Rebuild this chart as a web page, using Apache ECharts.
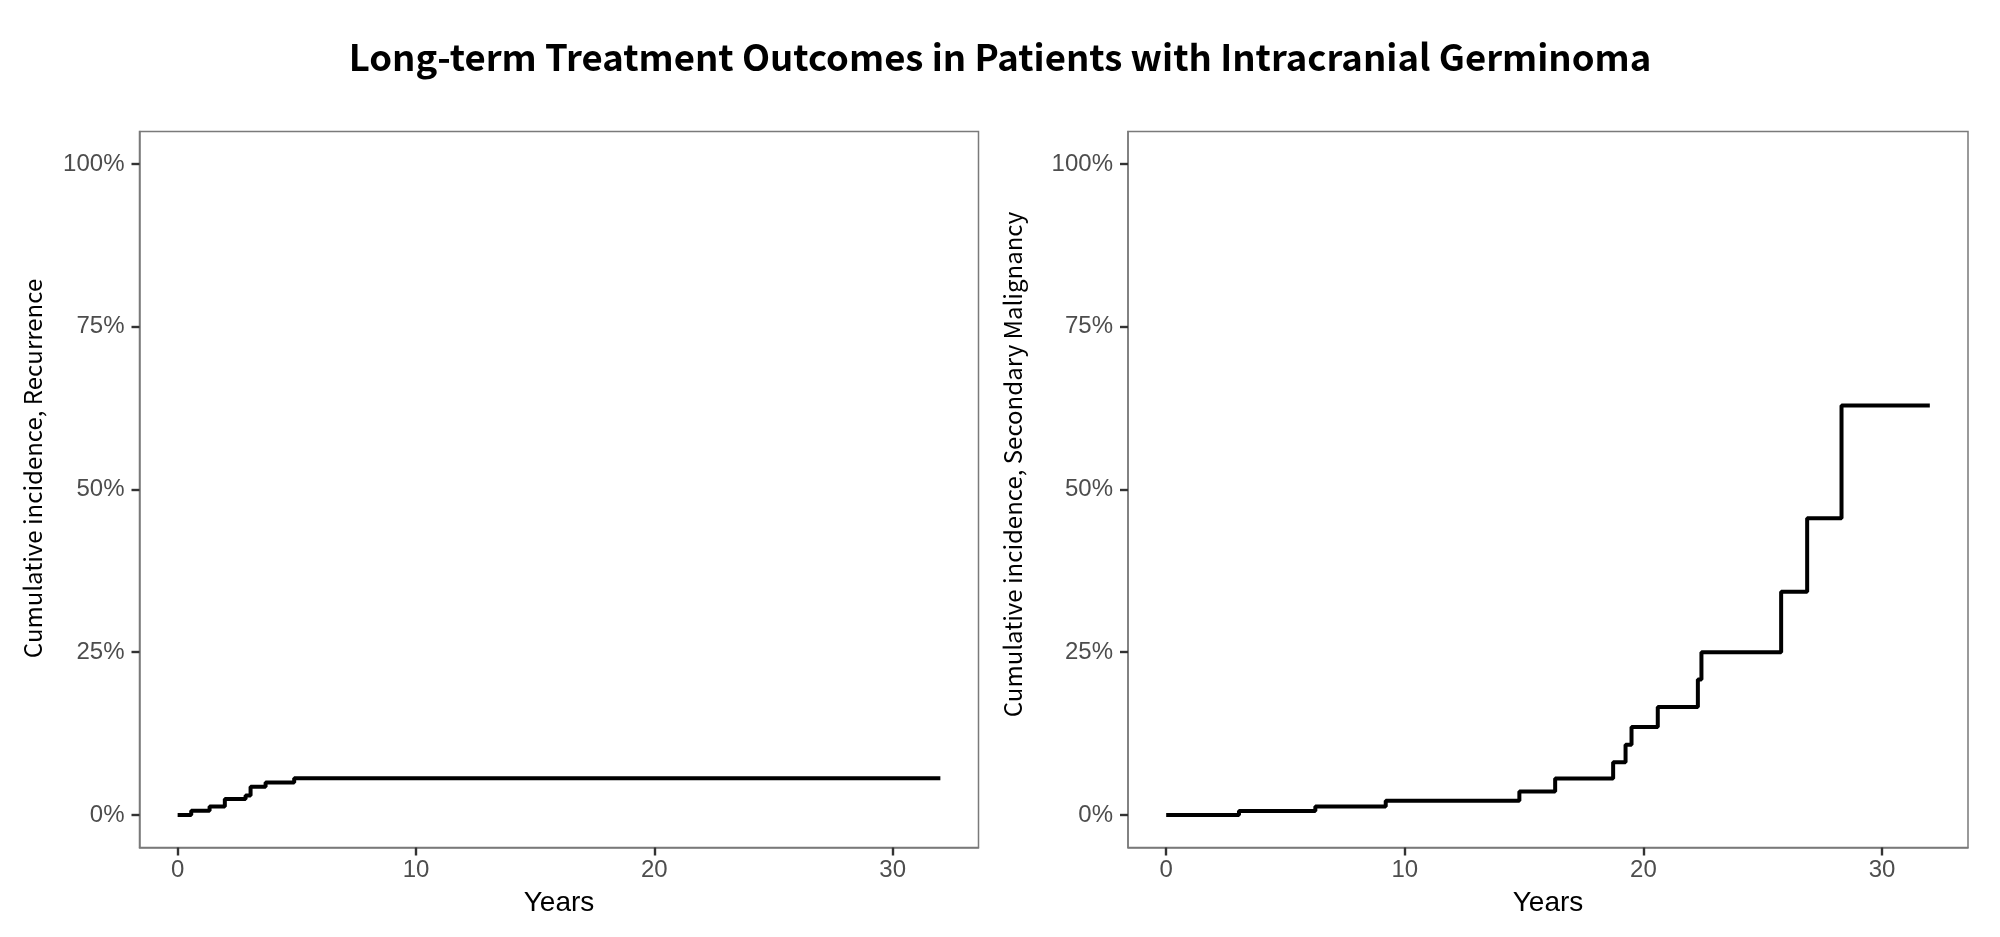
<!DOCTYPE html>
<html>
<head>
<meta charset="utf-8">
<script src="https://cdn.jsdelivr.net/npm/echarts@6/dist/echarts.min.js"></script>
<style>
  html, body { margin: 0; padding: 0; background: #fff; }
  #main { width: 2000px; height: 937px; }
</style>
</head>
<body>
<div id="main"></div>
<script>
// data (years, cumulative incidence %)
var recurYears = [0, 0.57, 1.34, 1.98, 2.85, 3.06, 3.69, 4.89, 32];
var recurPct   = [0, 0.65, 1.3, 2.45, 3.0, 4.35, 5.0, 5.65, 5.65];

var smYears = [0, 3.05, 6.25, 9.2, 14.8, 16.3, 18.73, 19.25, 19.5, 20.6, 22.28, 22.43, 25.77, 26.86, 28.3, 32];
var smPct   = [0, 0.6, 1.3, 2.2, 3.6, 5.6, 8.1, 10.8, 13.5, 16.6, 20.8, 25.0, 34.3, 45.6, 62.9, 62.9];

var xTicks = [0, 10, 20, 30];
var yTicks = [0, 25, 50, 75, 100];

function pairs(xs, ys) {
    return xs.map(function (x, i) { return [x, ys[i]]; });
}

var myChart = echarts.init(document.getElementById('main'));

var borderCol = '#7a7a7a';
var tickCol = '#333333';
var labelCol = '#4d4d4d';

function xAxis(idx) {
    return {
        type: 'value',
        gridIndex: idx,
        min: -1.6,
        max: 33.6,
        name: 'Years',
        nameLocation: 'middle',
        nameGap: 42,
        nameTextStyle: { fontFamily: 'Liberation Sans', fontSize: 28, color: '#000' },
        axisLine: { show: true, onZero: false, lineStyle: { color: borderCol, width: 1.5 } },
        axisTick: { show: true, inside: false, length: 8, customValues: xTicks, lineStyle: { color: tickCol, width: 2.4 } },
        axisLabel: { customValues: xTicks, fontFamily: 'Liberation Sans', fontSize: 24, color: labelCol, margin: 11 },
        splitLine: { show: false }
    };
}

// shift: the reference sets its y titles a little above the panel middle
function yAxis(idx, title, gap, shift) {
    return {
        type: 'value',
        gridIndex: idx,
        min: -5,
        max: 105,
        name: title,
        nameLocation: 'middle',
        nameGap: gap,
        nameTextStyle: { fontFamily: 'Noto Sans CJK KR', fontSize: 24, color: '#000', padding: [0, 0, 0, shift * 2] },
        axisLine: { show: true, onZero: false, lineStyle: { color: borderCol, width: 1.5 } },
        axisTick: { show: true, inside: false, length: 8, customValues: yTicks, lineStyle: { color: tickCol, width: 2.4 } },
        axisLabel: {
            customValues: yTicks,
            fontFamily: 'Liberation Sans', fontSize: 24, color: labelCol, margin: 15,
            formatter: function (v) { return v + '%'; }
        },
        splitLine: { show: false }
    };
}

var option = {
    backgroundColor: '#fff',
    animation: false,
    title: {
        text: 'Long-term Treatment Outcomes in Patients with Intracranial Germinoma',
        left: 'center',
        top: 34,
        textStyle: { fontFamily: 'Noto Sans CJK KR', fontWeight: 'bold', fontSize: 36.5, color: '#000' }
    },
    grid: [
        { left: 139.5, top: 131.5, width: 839, height: 716, show: true, borderColor: borderCol, borderWidth: 1.5 },
        { left: 1128, top: 131.5, width: 840, height: 716, show: true, borderColor: borderCol, borderWidth: 1.5 }
    ],
    xAxis: [xAxis(0), xAxis(1)],
    yAxis: [
        yAxis(0, 'Cumulative incidence, Recurrence', 95, 21),
        yAxis(1, 'Cumulative incidence, Secondary Malignancy', 103, 25)
    ],
    series: [
        {
            type: 'line',
            xAxisIndex: 0,
            yAxisIndex: 0,
            step: 'end',
            showSymbol: false,
            lineStyle: { color: '#000', width: 4 },
            data: pairs(recurYears, recurPct)
        },
        {
            type: 'line',
            xAxisIndex: 1,
            yAxisIndex: 1,
            step: 'end',
            showSymbol: false,
            lineStyle: { color: '#000', width: 4 },
            data: pairs(smYears, smPct)
        }
    ]
};
myChart.setOption(option);
</script>
</body>
</html>
